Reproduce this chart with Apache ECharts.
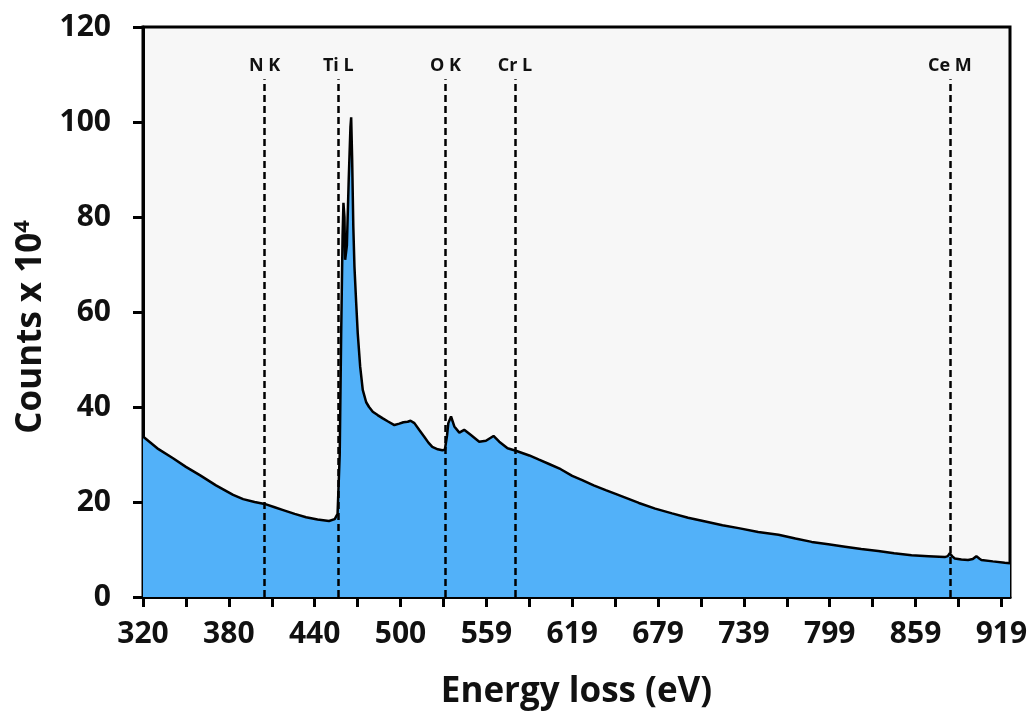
<!DOCTYPE html>
<html>
<head>
<meta charset="utf-8">
<script src="https://cdn.jsdelivr.net/npm/echarts@6/dist/echarts.min.js"></script>
<style>
  html, body { margin: 0; padding: 0; background: #fff; }
  #chart { width: 1035px; height: 723px; }
</style>
</head>
<body>
<div id="chart"></div>
<script>
// EELS spectrum
const energyEv = [320, 330, 341, 350, 360, 371, 383, 390, 398, 405, 412, 418, 426, 434, 442, 450, 454, 456,
  457.5, 458.5, 459.5, 460.1, 460.8, 461.3, 462.5, 463.8, 465.0, 465.5, 466.2, 467.0, 467.8, 469, 470.1, 471.8,
  473.6, 476, 478, 480.6, 484, 487.6, 491, 495.7, 499.2, 502, 505, 507, 509.7, 513, 516.7, 519.5, 522.2, 526,
  529.2, 531, 531.8, 532.5, 533.4, 535.3, 537.6, 541.1, 544.5, 549.2, 555, 559.7, 565, 569, 574.8, 580.6, 590,
  596.8, 603.8, 612, 620, 627, 635, 643.4, 650.3, 658, 666.6, 678, 689.8, 701, 713.1, 725, 736.3, 750, 764.2,
  776, 787.4, 799, 810.7, 822, 833.9, 845, 857.2, 869, 880.4, 882.5, 883.9, 885.5, 887.4, 892, 896.7, 900,
  902.5, 904.5, 906, 914, 922.3, 926]
const countsE4 = [33.8, 31.3, 29.2, 27.4, 25.6, 23.5, 21.5, 20.6, 20.0, 19.6, 18.9, 18.3, 17.5, 16.8, 16.3, 16.0, 16.4, 17.5,
  30, 55, 76, 83, 80, 71, 74, 88, 99, 101, 92, 78, 69.5, 62, 55.5, 48.5,
  43.6, 41, 40, 39, 38.3, 37.6, 37.0, 36.2, 36.5, 36.8, 36.9, 37.1, 36.6, 35.2, 33.7, 32.5, 31.6, 31.1,
  30.9, 31.0, 31.4, 34, 36.6, 38.0, 35.9, 34.6, 35.2, 34.1, 32.7, 32.9, 33.9, 32.7, 31.3, 30.8, 29.8,
  28.9, 28.0, 26.9, 25.5, 24.6, 23.5, 22.5, 21.7, 20.8, 19.8, 18.6, 17.6, 16.7, 15.9, 15.1, 14.5, 13.7, 13.1,
  12.3, 11.6, 11.1, 10.6, 10.1, 9.7, 9.2, 8.8, 8.6, 8.4, 8.6, 9.2, 8.6, 8.1, 7.9, 7.8, 8.0,
  8.6, 8.1, 7.8, 7.5, 7.2, 7.1]

const xTickLabels = ['320', '380', '440', '500', '559', '619', '679', '739', '799', '859', '919']

// edge markers (dashed lines)
const edgeNames = ['N K', 'Ti L', 'O K', 'Cr L', 'Ce M']
const edgeEv = [405, 456.5, 531.5, 580, 884]
const edgeTop = 109

const font = '"Open Sans", sans-serif'

const chart = echarts.init(document.getElementById('chart'))

chart.setOption({
  animation: false,
  backgroundColor: '#fff',
  grid: {
    left: 143,
    right: 25,
    top: 27,
    bottom: 126,
    show: true,
    backgroundColor: '#f7f7f7',
    borderColor: '#000',
    borderWidth: 3
  },
  xAxis: {
    type: 'value',
    min: 320,
    max: 926,
    interval: 30,
    name: 'Energy loss (eV)',
    nameLocation: 'middle',
    nameGap: 78,
    nameTextStyle: { fontFamily: font, fontSize: 35, fontWeight: 'bold', color: '#111' },
    axisLine: { lineStyle: { color: '#000', width: 3 } },
    axisTick: { inside: false, length: 10, lineStyle: { color: '#000', width: 3 } },
    splitLine: { show: false },
    axisLabel: {
      margin: 22,
      fontFamily: font,
      fontSize: 30,
      fontWeight: 'bold',
      color: '#111',
      showMaxLabel: false,
      formatter: v => {
        const i = (v - 320) / 60
        return Number.isInteger(i) ? xTickLabels[i] : ''
      }
    }
  },
  yAxis: {
    type: 'value',
    min: 0,
    max: 120,
    interval: 20,
    name: 'Counts x 10{sup|4}',
    nameLocation: 'middle',
    nameGap: 92,
    nameTextStyle: {
      fontFamily: font,
      fontSize: 35,
      fontWeight: 'bold',
      color: '#111',
      padding: [0, 30, 0, 0],
      rich: {
        sup: { fontFamily: font, fontSize: 22, fontWeight: 'bold', color: '#111', verticalAlign: 'top', padding: [0, 0, 16, 0] }
      }
    },
    axisLine: { lineStyle: { color: '#000', width: 3 } },
    axisTick: { inside: false, length: 10, lineStyle: { color: '#000', width: 3 } },
    splitLine: { show: false },
    axisLabel: { margin: 32, fontFamily: font, fontSize: 30, fontWeight: 'bold', color: '#111' }
  },
  series: [{
    type: 'line',
    data: energyEv.map((e, i) => [e, countsE4[i]]),
    showSymbol: false,
    smooth: false,
    lineStyle: { color: '#000', width: 2.5 },
    areaStyle: { color: '#52b1f9', opacity: 1 },
    markLine: {
      silent: true,
      symbol: 'none',
      lineStyle: { color: '#000', width: 2.5, type: [7, 4] },
      label: {
        show: true,
        position: 'end',
        distance: 4,
        fontFamily: font,
        fontSize: 18,
        fontWeight: 'bold',
        color: '#111',
        formatter: p => p.name
      },
      data: edgeEv.map((e, i) => [
        { name: edgeNames[i], coord: [e, 0] },
        { coord: [e, edgeTop] }
      ])
    }
  }]
})
</script>
</body>
</html>
